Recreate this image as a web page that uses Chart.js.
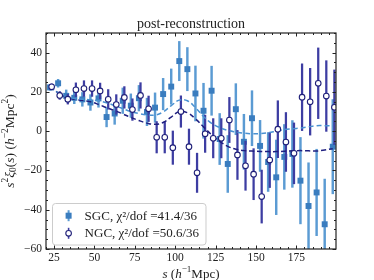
<!DOCTYPE html>
<html>
<head>
<meta charset="utf-8">
<script src="https://cdn.jsdelivr.net/npm/chart.js@4.4.0/dist/chart.umd.min.js"></script>
<style>
  html, body { margin: 0; padding: 0; background: #fff; }
  #wrap { width: 374px; height: 280px; }
</style>
</head>
<body>
<div id="wrap"><canvas id="xiChart" width="374" height="280"></canvas></div>
<script>
// separation bins, h^-1 Mpc
const sBins = [22.5, 27.5, 32.5, 37.5, 42.5, 47.5, 52.5, 57.5, 62.5, 67.5, 72.5, 77.5,
  82.5, 87.5, 92.5, 97.5, 102.5, 107.5, 112.5, 117.5, 122.5, 127.5, 132.5, 137.5,
  142.5, 147.5, 152.5, 157.5, 162.5, 167.5, 172.5, 177.5, 182.5, 187.5, 192.5, 197.5];

const sgcXi = [22.3, 24.4, 18.0, 17.0, 16.2, 14.6, 16.7, 7.2, 9.0, 15.5, 13.0, 16.8,
  9.8, 12.0, 18.9, 22.7, 35.7, 31.6, 19.2, 10.4, 20.6, -4.0, -16.7, 11.2,
  -5.4, 6.6, -7.5, -15.7, -23.5, -13.1, -11.6, -25.2, -38.1, -31.2, -47.4, -7.9];
const sgcErr = [1.5, 2, 3, 3, 3.5, 4, 4.5, 5, 5.5, 6.5, 6, 6.5,
  7, 7.5, 8, 9, 10, 11, 14, 14, 12.5, 13, 14.5, 13,
  14, 14, 13, 15, 19, 16.5, 17, 22, 22, 22, 23, 24];

const ngcXi = [22.6, 18.2, 16.3, 21.1, 21.7, 21.7, 20.5, 16.2, 13.6, 17.2, 11.0, 18.2,
  11.4, -3.1, -3.1, -8.4, 10.0, -7.9, -21.2, -1.3, -3.6, -3.6, 5.7, -12.1,
  -17.6, -21.9, -33.3, -14.7, 1.0, -5.5, -11.3, 17.3, 15.0, 24.4, 17.9, 12.2];
const ngcErr = [1.5, 2, 2.5, 3.5, 4, 4, 4, 5, 5, 5.5, 5.5, 6.5,
  6.5, 8, 8, 8.5, 8, 9, 10, 9.5, 10, 10, 11.5, 12.5,
  12.5, 13, 13.5, 14, 14.5, 15, 15.5, 17, 17, 18, 18, 19];

// best-fit models (dashed)
const sgcModel = [22.5, 19.5, 17.6, 16.7, 16.3, 16.0, 15.5, 14.5, 13.0, 11.5, 10.0, 9.0,
  8.3, 8.2, 9.8, 13.0, 15.8, 15.5, 12.0, 7.5, 4.0, 1.8, 0.4, -0.4,
  -1.0, -1.3, -1.2, -0.8, 0.0, 0.8, 1.2, 1.6, 2.2, 2.8, 2.8, 2.7];
const ngcModel = [22.8, 19.5, 17.3, 16.2, 15.7, 15.0, 13.6, 12.0, 10.5, 8.8, 7.0, 5.4,
  4.1, 3.5, 4.4, 7.2, 10.0, 9.4, 6.3, 2.2, -1.8, -5.2, -7.7, -9.2,
  -9.9, -10.1, -10.3, -10.4, -10.4, -10.2, -10.0, -9.9, -10.0, -10.1, -9.6, -8.9];

const xTicks = [25, 50, 75, 100, 125, 150, 175];
const yTicks = [-60, -40, -20, 0, 20, 40];
const chartTitle = 'post-reconstruction';
const legendLabels = ['SGC, χ²/dof =41.4/36', 'NGC, χ²/dof =50.6/36'];

// styles
const serif = "'Liberation Serif', 'DejaVu Serif', serif";
const SGC_MARK = '#3a7dbf', SGC_BAR = '#5b9bd3', SGC_LINE = '#4a91d1';
const NGC_MARK = '#1f1f78', NGC_BAR = '#3d3da2', NGC_LINE = '#1f1f80';
const NGC_SHIFT = 1; // NGC points are nudged right in the original

const pts = (xs, ys, dx) => xs.map((x, i) => ({ x: x + dx, y: ys[i] }));
const bars = (xs, ys, es, dx) => xs.map((x, i) => ({ x: x + dx, y: [ys[i] - es[i], ys[i] + es[i]] }));
const minusFmt = v => (v < 0 ? '\u2212' + Math.abs(v) : String(v));

function fontFor(st, size) {
  const sz = (st === 'sup' || st === 'sub') ? size * 0.7 : size;
  return (st === 'i' ? 'italic ' : '') + sz + 'px ' + serif;
}
function richWidth(ctx, parts, size) {
  let w = 0;
  parts.forEach(([t, st]) => { ctx.font = fontFor(st, size); w += ctx.measureText(t).width; });
  return w;
}
// draws centred on the current origin, baseline at y=0
function drawRich(ctx, parts, size) {
  let x = -richWidth(ctx, parts, size) / 2;
  parts.forEach(([t, st]) => {
    ctx.font = fontFor(st, size);
    const dy = st === 'sup' ? -size * 0.4 : st === 'sub' ? size * 0.22 : 0;
    ctx.fillText(t, x, dy);
    x += ctx.measureText(t).width;
  });
}

const xTitle = [['s', 'i'], [' (', ''], ['h', 'i'], ['\u22121', 'sup'], ['Mpc)', '']];
const yTitle = [['s', 'i'], ['2', 'sup'], ['ξ', 'i'], ['0', 'sub'], ['(', ''], ['s', 'i'], [') (', ''],
  ['h', 'i'], ['\u22122', 'sup'], ['Mpc', ''], ['2', 'sup'], [')', '']];

// title, frame, inward ticks, axis titles and legend
const decorations = {
  id: 'decorations',
  afterDraw(chart) {
    const { ctx, chartArea: a, scales: { x, y } } = chart;
    ctx.save();
    ctx.strokeStyle = '#222';
    ctx.lineWidth = 1;
    ctx.beginPath();
    for (let v = -60; v <= 50; v += 5) {
      const py = Math.round(y.getPixelForValue(v)) + 0.5;
      const len = v % 20 === 0 ? 3.5 : 2;
      ctx.moveTo(a.left, py); ctx.lineTo(a.left + len, py);
      ctx.moveTo(a.right, py); ctx.lineTo(a.right - len, py);
    }
    for (let v = 20; v <= 199; v += 5) {
      const px = Math.round(x.getPixelForValue(v)) + 0.5;
      const len = v % 25 === 0 ? 3.5 : 2;
      ctx.moveTo(px, a.bottom); ctx.lineTo(px, a.bottom - len);
      ctx.moveTo(px, a.top); ctx.lineTo(px, a.top + len);
    }
    ctx.stroke();
    ctx.lineWidth = 1.2;
    ctx.strokeRect(a.left, a.top, a.width, a.height);

    // title
    ctx.fillStyle = '#222';
    ctx.font = '14px ' + serif;
    ctx.textAlign = 'center';
    ctx.textBaseline = 'alphabetic';
    ctx.fillText(chartTitle, (a.left + a.right) / 2, 28);
    ctx.textAlign = 'left';

    // axis titles
    ctx.save();
    ctx.translate((a.left + a.right) / 2, 277.5);
    drawRich(ctx, xTitle, 13);
    ctx.restore();
    ctx.save();
    ctx.translate(13.5, (a.top + a.bottom) / 2);
    ctx.rotate(-Math.PI / 2);
    drawRich(ctx, yTitle, 13.5);
    ctx.restore();

    // legend
    ctx.font = '13px ' + serif;
    const tw = Math.max(...legendLabels.map(t => ctx.measureText(t).width));
    const bx = a.left + 6.5, by = a.bottom - 45.5, bw = 33 + tw + 6, bh = 41.5;
    ctx.beginPath();
    ctx.roundRect(bx, by, bw, bh, 3);
    ctx.fillStyle = 'rgba(255,255,255,0.85)';
    ctx.fill();
    ctx.strokeStyle = '#cccccc';
    ctx.lineWidth = 1;
    ctx.stroke();

    const mx = a.left + 22.6;
    const rows = [a.bottom - 33.3, a.bottom - 15.7];
    // SGC marker
    ctx.fillStyle = SGC_BAR;
    ctx.fillRect(mx - 1, rows[0] - 5.5, 2, 11);
    ctx.fillStyle = SGC_MARK;
    ctx.fillRect(mx - 3, rows[0] - 3, 6, 6);
    // NGC marker
    ctx.fillStyle = NGC_BAR;
    ctx.fillRect(mx - 0.8, rows[1] - 5.5, 1.6, 11);
    ctx.beginPath();
    ctx.arc(mx, rows[1], 2.8, 0, Math.PI * 2);
    ctx.fillStyle = '#fff';
    ctx.fill();
    ctx.strokeStyle = NGC_MARK;
    ctx.lineWidth = 1.1;
    ctx.stroke();

    ctx.fillStyle = '#222';
    ctx.font = '13px ' + serif;
    ctx.textBaseline = 'middle';
    legendLabels.forEach((t, i) => ctx.fillText(t, a.left + 38.6, rows[i] + 0.5));
    ctx.restore();
  }
};

new Chart(document.getElementById('xiChart'), {
  type: 'scatter',
  data: {
    datasets: [
      { type: 'bar', label: 'SGC err', data: bars(sBins, sgcXi, sgcErr, 0),
        backgroundColor: SGC_BAR, barThickness: 1.8, grouped: false, borderWidth: 0, order: 6 },
      { type: 'scatter', label: 'SGC', data: pts(sBins, sgcXi, 0),
        pointStyle: 'rect', pointRadius: 4.2, backgroundColor: SGC_MARK, borderWidth: 0, order: 5 },
      { type: 'bar', label: 'NGC err', data: bars(sBins, ngcXi, ngcErr, NGC_SHIFT),
        backgroundColor: NGC_BAR, barThickness: 1.6, grouped: false, borderWidth: 0, order: 4 },
      { type: 'line', label: 'SGC model', data: pts(sBins, sgcModel, 0),
        borderColor: SGC_LINE, borderWidth: 1.5, borderDash: [5, 3], pointRadius: 0, tension: 0.4, fill: false, order: 3 },
      { type: 'line', label: 'NGC model', data: pts(sBins, ngcModel, 0),
        borderColor: NGC_LINE, borderWidth: 1.5, borderDash: [5, 3], pointRadius: 0, tension: 0.4, fill: false, order: 3 },
      { type: 'scatter', label: 'NGC', data: pts(sBins, ngcXi, NGC_SHIFT),
        pointStyle: 'circle', pointRadius: 2.8, backgroundColor: '#ffffff', borderColor: NGC_MARK, borderWidth: 1.1, order: 1 }
    ]
  },
  options: {
    responsive: false,
    animation: false,
    devicePixelRatio: 1,
    layout: { padding: { left: 0, right: 38, top: 33, bottom: 0 } },
    plugins: {
      legend: { display: false },
      tooltip: { enabled: false },
      title: { display: false }
    },
    scales: {
      x: {
        type: 'linear',
        min: 20,
        max: 199.5,
        offset: false,
        grid: { display: false, drawTicks: false },
        border: { display: false },
        ticks: { color: '#222', font: { family: serif, size: 11.5 }, padding: 2, maxRotation: 0, callback: minusFmt },
        afterBuildTicks: sc => { sc.ticks = xTicks.map(v => ({ value: v })); },
        afterFit: sc => { sc.height = 31; }
      },
      y: {
        min: -60,
        max: 50,
        grid: { display: false, drawTicks: false },
        border: { display: false },
        ticks: { color: '#222', font: { family: serif, size: 11.5 }, padding: 4, callback: minusFmt },
        afterBuildTicks: sc => { sc.ticks = yTicks.map(v => ({ value: v })); },
        afterFit: sc => { sc.width = 46; }
      }
    }
  },
  plugins: [decorations]
});
</script>
</body>
</html>
